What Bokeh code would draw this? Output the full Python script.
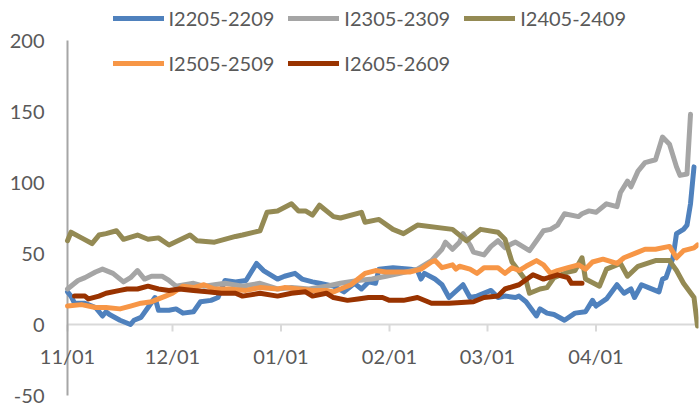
import pandas as pd
from bokeh.plotting import figure
from bokeh.models import Range1d, Legend, LegendItem
from bokeh.core.properties import value
from bokeh.embed import file_html
from bokeh.resources import INLINE

# ---------------- data ----------------
SERIES = ["I2205-2209", "I2305-2309", "I2405-2409", "I2505-2509", "I2605-2609"]
COLORS = ["#4f81bd", "#a5a5a5", "#948a54", "#f79646", "#993300"]

i2205_dates = ["11-01", "11-02", "11-03", "11-06", "11-09", "11-11", "11-12", "11-13", "11-16", "11-19",
               "11-20", "11-22", "11-24", "11-26", "11-27", "11-30", "12-02", "12-04", "12-07", "12-09",
               "12-12", "12-14", "12-16", "12-19", "12-22", "12-25", "12-27", "12-31", "01-02", "01-05",
               "01-07", "01-10", "01-12", "01-16", "01-19", "01-22", "01-24", "01-26", "01-28", "01-29",
               "02-02", "02-07", "02-09", "02-10", "02-11", "02-14", "02-16", "02-18", "02-22", "02-24",
               "02-26", "03-02", "03-04", "03-06", "03-09", "03-10", "03-12", "03-15", "03-16", "03-18",
               "03-20", "03-23", "03-26", "03-29", "03-31", "04-01", "04-04", "04-07", "04-09", "04-11",
               "04-12", "04-14", "04-16", "04-19", "04-20", "04-21", "04-23", "04-24", "04-26", "04-27",
               "04-28", "04-29"]
i2205_vals = [23, 20, 15, 15, 12, 6, 9, 7, 3, 0,
              3, 5, 12, 19, 10, 10, 11, 8, 9, 16,
              17, 19, 31, 30, 31, 43, 38, 32, 34, 36,
              32, 30, 29, 27, 23, 29, 25, 30, 29, 39,
              40, 39, 38, 32, 36, 32, 28, 19, 28, 19,
              20, 24, 19, 20, 19, 20, 16, 6, 11, 8,
              7, 3, 8, 9, 17, 13, 18, 28, 22, 25,
              19, 28, 26, 23, 32, 33, 47, 64, 67, 70,
              85, 111]

i2305_dates = ["11-01", "11-04", "11-06", "11-09", "11-11", "11-14", "11-17", "11-19", "11-21", "11-23",
               "11-25", "11-28", "11-30", "12-02", "12-07", "12-10", "12-16", "12-21", "12-26", "12-31",
               "01-04", "01-09", "01-14", "01-18", "01-23", "01-27", "01-31", "02-04", "02-09", "02-13",
               "02-16", "02-17", "02-19", "02-21", "02-22", "02-24", "02-25", "02-28", "03-02", "03-04",
               "03-06", "03-08", "03-09", "03-13", "03-15", "03-17", "03-19", "03-21", "03-23", "03-27",
               "03-28", "03-30", "04-01", "04-04", "04-07", "04-08", "04-10", "04-11", "04-13", "04-15",
               "04-18", "04-20", "04-22", "04-24", "04-25", "04-27", "04-28"]
i2305_vals = [25, 31, 33, 37, 39, 36, 30, 33, 38, 32,
              34, 34, 31, 27, 29, 27, 29, 27, 29, 25,
              26, 25, 27, 29, 31, 32, 34, 36, 39, 45,
              53, 58, 53, 58, 64, 56, 51, 49, 55, 59,
              54, 57, 58, 52, 59, 66, 67, 70, 78, 76,
              78, 80, 79, 85, 83, 93, 101, 97, 108, 114,
              116, 132, 127, 111, 105, 106, 148]

i2405_dates = ["11-01", "11-02", "11-05", "11-08", "11-10", "11-12", "11-15", "11-17", "11-21", "11-24",
               "11-27", "11-30", "12-06", "12-08", "12-13", "12-19", "12-21", "12-26", "12-28", "12-31",
               "01-04", "01-06", "01-08", "01-10", "01-12", "01-16", "01-18", "01-24", "01-25", "01-29",
               "02-02", "02-05", "02-09", "02-19", "02-23", "02-27", "03-04", "03-06", "03-08", "03-12",
               "03-13", "03-16", "03-18", "03-20", "03-24", "03-26", "03-28", "03-29", "04-02", "04-04",
               "04-08", "04-10", "04-13", "04-18", "04-22", "04-24", "04-26", "04-29", "04-30"]
i2405_vals = [59, 65, 61, 57, 63, 64, 66, 60, 63, 60,
              61, 56, 63, 59, 58, 62, 63, 66, 79, 80,
              85, 80, 80, 77, 84, 76, 75, 79, 72, 74,
              67, 64, 70, 67, 59, 67, 65, 60, 44, 31,
              22, 25, 26, 33, 37, 38, 47, 32, 27, 39,
              43, 34, 41, 45, 45, 38, 29, 19, -1]

i2505_dates = ["11-01", "11-05", "11-09", "11-12", "11-16", "11-19", "11-22", "11-25", "11-27", "11-29",
               "12-01", "12-04", "12-07", "12-10", "12-13", "12-17", "12-22", "12-26", "12-31", "01-02",
               "01-06", "01-10", "01-14", "01-16", "01-18", "01-21", "01-23", "01-25", "01-28", "01-31",
               "02-04", "02-07", "02-10", "02-13", "02-14", "02-16", "02-19", "02-20", "02-21", "02-24",
               "02-26", "02-28", "03-04", "03-06", "03-08", "03-10", "03-12", "03-15", "03-17", "03-19",
               "03-21", "03-24", "03-27", "03-29", "03-31", "04-03", "04-07", "04-09", "04-13", "04-15",
               "04-18", "04-22", "04-24", "04-26", "04-29", "04-30"]
i2505_vals = [13, 14, 12, 12, 11, 13, 15, 16, 18, 20,
              22, 27, 26, 28, 25, 25, 24, 26, 25, 26,
              25, 24, 24, 23, 25, 28, 32, 36, 38, 37,
              37, 37, 39, 44, 45, 40, 42, 39, 41, 39,
              36, 40, 40, 36, 40, 38, 41, 45, 42, 36,
              38, 40, 42, 39, 44, 46, 43, 47, 51, 53,
              53, 55, 47, 52, 54, 56]

i2605_dates = ["11-03", "11-06", "11-07", "11-10", "11-12", "11-16", "11-18", "11-21", "11-24", "11-27",
               "11-30", "12-03", "12-07", "12-11", "12-15", "12-19", "12-21", "12-26", "12-31", "01-04",
               "01-08", "01-10", "01-14", "01-16", "01-20", "01-23", "01-26", "01-30", "02-01", "02-05",
               "02-09", "02-13", "02-18", "02-25", "02-28", "03-04", "03-06", "03-10", "03-14", "03-17",
               "03-21", "03-24", "03-25", "03-28"]
i2605_vals = [20, 20, 18, 20, 22, 24, 25, 25, 27, 25,
              24, 25, 24, 23, 22, 22, 20, 22, 20, 22,
              23, 20, 22, 19, 17, 18, 19, 19, 17, 17,
              19, 15, 15, 16, 19, 20, 25, 28, 35, 32,
              35, 33, 29, 29]

MONTH_TICKS = ["11-01", "12-01", "01-01", "02-01", "03-01", "04-01"]
MONTH_LABELS = ["11/01", "12/01", "01/01", "02/01", "03/01", "04/01"]
Y_TICKS = [-50, 0, 50, 100, 150, 200]
Y_LABELS = ["-50", "0", "50", "100", "150", "200"]

# ---------------- helpers ----------------
def to_dt(md):
    year = 2024 if int(md[:2]) >= 11 else 2025
    return pd.Timestamp(f"{year}-{md}")

def to_dts(lst):
    return [to_dt(s) for s in lst]

# ---------------- layout ----------------
W, H = 699, 412
FRAME_R = 1
PX_PER_DAY = 3.5
PX_PER_UNIT = 1.42
AXIS_X_PX = 67            # screen x of the value axis (first day)
TOP_PX, BOTTOM_PX = 40, 395   # screen y of the top and bottom ticks
Y_MAX = Y_TICKS[-1] + TOP_PX / PX_PER_UNIT
Y_MIN = Y_TICKS[0] - (H - BOTTOM_PX) / PX_PER_UNIT
TEXT_COLOR = "#595959"
FONT = "Lato"

first_day = to_dt(MONTH_TICKS[0])
last_day = to_dt("04-30")
x_start = first_day - pd.Timedelta(days=AXIS_X_PX / PX_PER_DAY)
x_end = last_day + pd.Timedelta(days=FRAME_R / PX_PER_DAY)

p = figure(width=W, height=H, output_backend="svg", toolbar_location=None,
           x_axis_location=None, y_axis_location=None,
           x_range=Range1d(x_start, x_end), y_range=Range1d(Y_MIN, Y_MAX),
           min_border_left=0, min_border_right=FRAME_R,
           min_border_top=0, min_border_bottom=0)
p.outline_line_color = None
p.grid.visible = False
p.background_fill_color = "white"
p.border_fill_color = "white"

tick_dt = to_dts(MONTH_TICKS)
n = len(tick_dt)

# horizontal axis line at 0 and month ticks
p.segment(x0=[first_day], y0=[0], x1=[last_day], y1=[0], line_color="#d9d9d9", line_width=2)
p.segment(x0=tick_dt, y0=[0] * n, x1=tick_dt, y1=[-7 / PX_PER_UNIT] * n,
          line_color="#d9d9d9", line_width=2)
# vertical value axis line
p.segment(x0=[first_day], y0=[Y_TICKS[0]], x1=[first_day], y1=[Y_TICKS[-1]],
          line_color="#a6a6a6", line_width=2)

# value-axis labels
p.text(x=[first_day] * len(Y_TICKS), y=Y_TICKS, text=Y_LABELS, text_font=value(FONT),
       text_font_size="20px", text_color=TEXT_COLOR, text_align="right",
       text_baseline="middle", x_offset=-23)
# month labels
p.text(x=tick_dt, y=[0] * n, text=MONTH_LABELS, text_font=value(FONT),
       text_font_size="20px", text_color=TEXT_COLOR, text_align="center",
       text_baseline="middle", y_offset=31)

data = [(i2205_dates, i2205_vals), (i2305_dates, i2305_vals), (i2405_dates, i2405_vals),
        (i2505_dates, i2505_vals), (i2605_dates, i2605_vals)]
renderers = []
for (d, v), c in zip(data, COLORS):
    r = p.line(x=to_dts(d), y=v, line_color=c, line_width=5,
               line_join="round", line_cap="round")
    renderers.append(r)

# legend: bottom-left corner measured from the bottom of the canvas-sized frame
legend = Legend(items=[LegendItem(label=s, renderers=[r]) for s, r in zip(SERIES, renderers)],
                location=(112.5, 333.5), orientation="horizontal", ncols=3,
                padding=0, margin=0, spacing=14,
                glyph_width=51, glyph_height=20, label_height=31, label_standoff=5,
                border_line_color=None, background_fill_alpha=0,
                label_text_font=FONT, label_text_font_size="20px",
                label_text_color=TEXT_COLOR)
p.add_layout(legend, "center")

open("out.html", "w").write(file_html(p, INLINE))
